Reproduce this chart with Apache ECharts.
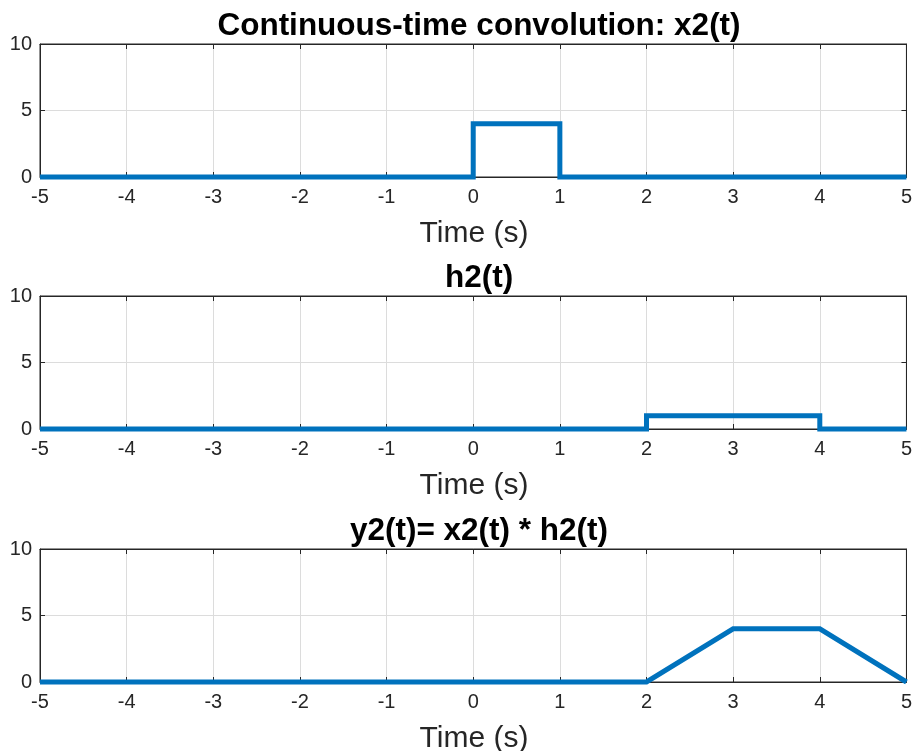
<!DOCTYPE html>
<html><head><meta charset="utf-8">
<script src="https://cdn.jsdelivr.net/npm/echarts@6/dist/echarts.min.js"></script>
<style>html,body{margin:0;padding:0;background:#fff}#c{width:915px;height:751px}</style>
</head><body><div id="c"></div>
<script>
const titles = ['Continuous-time convolution: x2(t)', 'h2(t)', 'y2(t)= x2(t) * h2(t)'];
const xLabel = 'Time (s)';
const xTicks = [-5, -4, -3, -2, -1, 0, 1, 2, 3, 4, 5];
const yTicks = [0, 5, 10];
const x2T = [-5, 0, 0, 1, 1, 5];
const x2V = [0, 0, 4, 4, 0, 0];
const h2T = [-5, 2, 2, 4, 4, 5];
const h2V = [0, 0, 1, 1, 0, 0];
const y2T = [-5, 2, 3, 4, 5];
const y2V = [0, 0, 4, 4, 0];

const seriesT = [x2T, h2T, y2T];
const seriesV = [x2V, h2V, y2V];
const tops = [44, 296, 549];
const plotH = 133;
const font = '"Liberation Sans", Arial, sans-serif';
const axisCol = '#262626';

const grids = [], xAxes = [], yAxes = [], series = [], titleArr = [], graphics = [];
tops.forEach((t, i) => {
  grids.push({left: 40, right: 7, top: t, height: plotH, show: true, borderColor: axisCol, borderWidth: 1, backgroundColor: '#fff'});
  const common = {type: 'value', min: xTicks[0], max: xTicks[xTicks.length - 1], interval: 1, gridIndex: i};
  xAxes.push(Object.assign({}, common, {
    position: 'bottom',
    axisLine: {show: true, onZero: false, lineStyle: {color: axisCol, width: 1}},
    axisTick: {show: true, inside: true, length: 5, lineStyle: {color: axisCol}},
    axisLabel: {show: true, color: axisCol, fontSize: 20, fontFamily: font, margin: 10},
    splitLine: {show: true, lineStyle: {color: '#dcdcdc', width: 1}}
  }));
  xAxes.push(Object.assign({}, common, {
    position: 'top',
    axisLine: {show: true, onZero: false, lineStyle: {color: axisCol, width: 1}},
    axisTick: {show: true, inside: true, length: 5, lineStyle: {color: axisCol}},
    axisLabel: {show: false},
    splitLine: {show: false}
  }));
  const yc = {type: 'value', min: yTicks[0], max: yTicks[yTicks.length - 1], interval: 5, gridIndex: i};
  yAxes.push(Object.assign({}, yc, {
    position: 'left',
    axisLine: {show: true, onZero: false, lineStyle: {color: axisCol, width: 1}},
    axisTick: {show: true, inside: true, length: 5, lineStyle: {color: axisCol}},
    axisLabel: {show: true, color: axisCol, fontSize: 20, fontFamily: font, margin: 8},
    splitLine: {show: true, lineStyle: {color: '#dcdcdc', width: 1}}
  }));
  yAxes.push(Object.assign({}, yc, {
    position: 'right',
    axisLine: {show: true, onZero: false, lineStyle: {color: axisCol, width: 1}},
    axisTick: {show: true, inside: true, length: 5, lineStyle: {color: axisCol}},
    axisLabel: {show: false},
    splitLine: {show: false}
  }));
  series.push({
    type: 'line', xAxisIndex: 2 * i, yAxisIndex: 2 * i,
    data: seriesT[i].map((x, k) => [x, seriesV[i][k]]),
    showSymbol: false, symbol: 'none', clip: false,
    lineStyle: {color: '#0072BD', width: 5, join: 'miter', cap: 'butt'},
    z: 5
  });
  titleArr.push({
    text: titles[i], left: 474, top: t - 39, textAlign: 'center',
    textStyle: {fontSize: 31.5, fontWeight: 'bold', color: '#000', fontFamily: font}
  });
  graphics.push({
    type: 'text', x: 474, y: t + plotH + 57,
    style: {text: xLabel, fill: axisCol, fontSize: 30, fontFamily: font, align: 'center', verticalAlign: 'middle'}
  });
});

const chart = echarts.init(document.getElementById('c'), null, {renderer: 'canvas'});
chart.setOption({
  animation: false,
  title: titleArr,
  grid: grids,
  xAxis: xAxes,
  yAxis: yAxes,
  series: series,
  graphic: graphics
});
</script></body></html>
